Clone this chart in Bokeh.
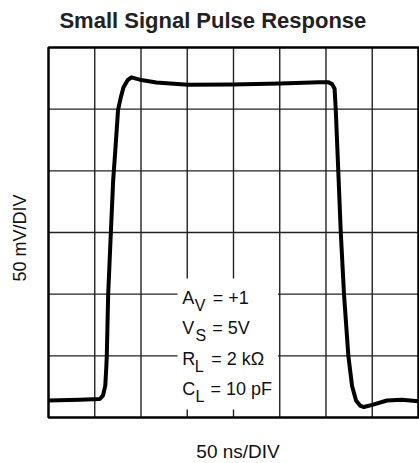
import math
from bokeh.plotting import figure
from bokeh.models import Range1d, Label
from bokeh.embed import file_html
from bokeh.resources import INLINE

# ---- data (time in ns, output in mV) ----
time_ns = [0, 34, 55.5, 59, 61.4, 62.5, 63, 64.5, 67.4, 69.9, 72.2, 75.2, 78, 81,
           85.5, 89.7, 98.6, 116.6, 150.7, 199.2, 250.6, 292.6, 302.3, 306.6,
           309.3, 310.6, 313.1, 316, 319.5, 324.2, 328.2, 332.5, 336.8, 341,
           350, 365.9, 382, 400]
vout_mv = [13.8, 14.4, 15, 17.9, 26, 40.8, 49.8, 99.7, 150, 192, 216.4, 249.4,
           259, 267.5, 273.5, 275.8, 273.9, 271.6, 269.7, 269.9, 270.9, 271.9,
           271.9, 270.3, 266.6, 248.8, 203.4, 150, 99.7, 49.8, 25.5, 13.8, 9.7,
           8.5, 10.2, 13.8, 14.4, 13.2]

x_span = [0, 400]      # 8 divisions of 50 ns
y_span = [0, 300]      # 6 divisions of 50 mV
x_grid_ticks = [50, 100, 150, 200, 250, 300, 350]
y_grid_ticks = [50, 100, 150, 200, 250]

title_text = "Small Signal Pulse Response"
x_label_text = "50 ns/DIV"
y_label_text = "50 mV/DIV"
cond_main = ["A", "V", "R", "C"]
cond_sub = ["V", "S", "L", "L"]
cond_rest = ["= +1", "= 5V", "= 2 k\u03a9", "= 10 pF"]

FONT = "Liberation Sans"

# the whole canvas is the plotting frame; the scope box sits inside it
p = figure(width=419, height=463, output_backend="svg", toolbar_location=None,
           x_range=Range1d(-51.9, 401.1), y_range=Range1d(-37.3, 338.1),
           x_axis_location=None, y_axis_location=None,
           min_border=0, min_border_left=0, min_border_right=0,
           min_border_top=0, min_border_bottom=0, title=None)
p.background_fill_color = "white"
p.border_fill_color = "white"
p.outline_line_color = None
p.xgrid.visible = False
p.ygrid.visible = False

# grid lines
p.segment(x0=x_grid_ticks, x1=x_grid_ticks,
          y0=[y_span[0]] * len(x_grid_ticks), y1=[y_span[1]] * len(x_grid_ticks),
          line_color="#222222", line_width=1.4)
p.segment(x0=[x_span[0]] * len(y_grid_ticks), x1=[x_span[1]] * len(y_grid_ticks),
          y0=y_grid_ticks, y1=y_grid_ticks,
          line_color="#222222", line_width=1.4)

# white box behind the conditions text
p.quad(left=[139.5], right=[248], bottom=[6.5], top=[112.7],
       fill_color="white", line_color=None)

# scope frame
p.quad(left=[x_span[0]], right=[x_span[1]], bottom=[y_span[0]], top=[y_span[1]],
       fill_color=None, line_color="black", line_width=2.5)

p.line(time_ns, vout_mv, line_color="black", line_width=4,
       line_join="round", line_cap="butt")

# captions
p.add_layout(Label(x=177.7, y=321.5, text=title_text, text_font=FONT,
                   text_font_size="22px", text_font_style="bold",
                   text_color="#222222", text_align="center",
                   text_baseline="alphabetic"))
p.add_layout(Label(x=204.9, y=-27.4, text=x_label_text, text_font=FONT,
                   text_font_size="19px", text_color="#111111",
                   text_align="center", text_baseline="alphabetic"))
p.add_layout(Label(x=-30.3, y=145.5, text=y_label_text, text_font=FONT,
                   text_font_size="18px", text_color="#111111",
                   text_align="center", text_baseline="middle",
                   angle=math.pi / 2))

# test conditions
main_y = [97.0, 72.7, 47.5, 23.2]
sub_x = [158.2, 158.9, 158.2, 158.9]
sub_dy = [6.1, 6.1, 6.1, 6.1]
rest_x = [177.6, 177.0, 175.9, 175.1]
for m, s, r, yy, sx, dy, rx in zip(cond_main, cond_sub, cond_rest, main_y,
                                   sub_x, sub_dy, rest_x):
    p.add_layout(Label(x=144.5, y=yy, text=m, text_font=FONT,
                       text_font_size="18px", text_color="#111111",
                       text_baseline="alphabetic"))
    p.add_layout(Label(x=sx, y=yy - dy, text=s, text_font=FONT,
                       text_font_size="16px", text_color="#111111",
                       text_baseline="alphabetic"))
    p.add_layout(Label(x=rx, y=yy, text=r, text_font=FONT,
                       text_font_size="18px", text_color="#111111",
                       text_baseline="alphabetic"))

open("out.html", "w").write(file_html(p, INLINE))
